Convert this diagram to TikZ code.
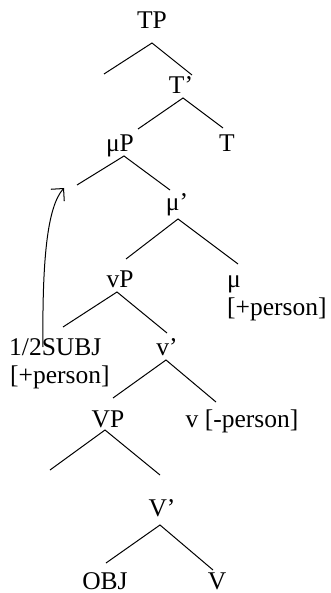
\documentclass[tikz,border=0pt]{standalone}
\usepackage{fontspec}
\setmainfont{Liberation Serif}
\usetikzlibrary{arrows.meta}
\begin{document}
\begin{tikzpicture}[x=1pt,y=-1pt,
  lbl/.style={anchor=base,inner sep=0pt,font=\fontsize{25.5}{30}\selectfont},
  lblw/.style={anchor=base west,inner sep=0pt,font=\fontsize{25.5}{30}\selectfont},
  branch/.style={line width=1pt},
  movearrow/.style={line width=1pt,-{Straight Barb[length=9pt,width=18pt,line width=1pt]}}]
\useasboundingbox (0,0) rectangle (331,593);
% labels
\node[lbl] (TP) at (152,29) {TP};
\node[lbl] (Tbar) at (181,94) {T’};
\node[lbl] (muP) at (120,152) {μP};
\node[lbl] (T) at (227,152) {T};
\node[lbl] (mubar) at (177,211) {μ’};
\node[lbl] (vP) at (120,287) {vP};
\node[lblw] (mu) at (227,287) {μ};
\node[lblw] (mufeat) at (227,315) {[+person]};
\node[lblw] (subj) at (9,355) {1/2SUBJ};
\node[lblw] (subjfeat) at (10,383) {[+person]};
\node[lbl] (vbar) at (167,355) {v’};
\node[lbl] (VP) at (108,427) {VP};
\node[lbl] (vhead) at (242,427) {v [-person]};
\node[lbl] (Vbar) at (162,516) {V’};
\node[lbl] (OBJ) at (105,589) {OBJ};
\node[lbl] (V) at (217,589) {V};
% branch points
\coordinate (TPa) at (152,43);  \coordinate (TPl) at (104,74);  \coordinate (TPr) at (192,75);
\coordinate (Tba) at (183,98);  \coordinate (Tbl) at (138,129); \coordinate (Tbr) at (223,128);
\coordinate (mPa) at (124,156); \coordinate (mPl) at (77,185);  \coordinate (mPr) at (170,190);
\coordinate (mba) at (178,219); \coordinate (mbl) at (126,259); \coordinate (mbr) at (238,264);
\coordinate (vPa) at (117,292); \coordinate (vPl) at (63,327);  \coordinate (vPr) at (167,333);
\coordinate (vba) at (166,360); \coordinate (vbl) at (113,398); \coordinate (vbr) at (216,402);
\coordinate (VPa) at (105,430); \coordinate (VPl) at (50,470);  \coordinate (VPr) at (160,475);
\coordinate (Vba) at (160,525); \coordinate (Vbl) at (106,563); \coordinate (Vbr) at (213,570);
\draw[branch] (TPl) -- (TPa) -- (TPr);
\draw[branch] (Tbl) -- (Tba) -- (Tbr);
\draw[branch] (mPl) -- (mPa) -- (mPr);
\draw[branch] (mbl) -- (mba) -- (mbr);
\draw[branch] (vPl) -- (vPa) -- (vPr);
\draw[branch] (vbl) -- (vba) -- (vbr);
\draw[branch] (VPl) -- (VPa) -- (VPr);
\draw[branch] (Vbl) -- (Vba) -- (Vbr);
% movement arrow
\coordinate (movestart) at (43,347);
\coordinate (movetip) at (64,188);
\draw[movearrow] (movestart) .. controls (42,255) and (48,206) .. (movetip);
\end{tikzpicture}
\end{document}
